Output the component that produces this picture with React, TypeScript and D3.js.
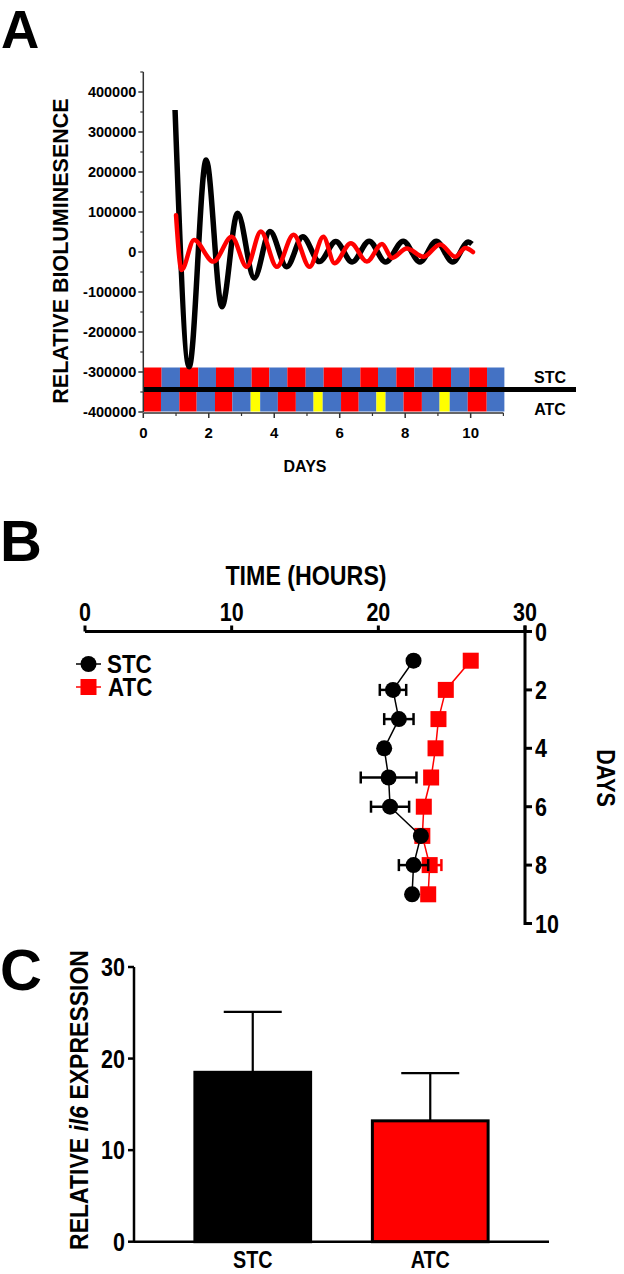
import React from 'react';
import * as d3 from 'd3';

const FONT = "'Liberation Sans', Arial, Helvetica, sans-serif";

// ---------- Panel A data ----------
const stcWaveDays = [0.97, 1.4, 1.92, 2.4, 2.88, 3.39, 3.87, 4.38, 4.87, 5.38, 5.88, 6.38, 6.9, 7.4, 7.94, 8.45, 8.95, 9.45, 9.93, 10.04];
const stcWaveValues = [355000, -287000, 230000, -137000, 97000, -65000, 51000, -37000, 38000, -24000, 26000, -25000, 27000, -25000, 27000, -25000, 27000, -25000, 25000, 20000];
const atcWaveDays = [1.0, 1.17, 1.55, 2.14, 2.7, 3.16, 3.59, 4.08, 4.59, 5.08, 5.5, 5.84, 6.34, 6.83, 7.29, 7.6, 8.05, 8.56, 9.07, 9.53, 9.84, 10.07];
const atcWaveValues = [92000, -45000, 30000, -24000, 38000, -37000, 51000, -37000, 43000, -37000, 38000, -28000, 22000, -24000, 20000, -15000, 9000, -12000, 19000, -12000, 10000, 0];
const aYTicks = [400000, 300000, 200000, 100000, 0, -100000, -200000, -300000, -400000];
const aYMinorTicks = [450000, 350000, 250000, 150000, 50000, -50000, -150000, -250000, -350000];
const aXTicks = [0, 2, 4, 6, 8, 10];
const aXMinorTicks = [1, 3, 5, 7, 9, 11];
const stcLightEdges = [0, 0.56, 1.12, 1.68, 2.22, 2.77, 3.31, 3.85, 4.4, 4.96, 5.51, 6.07, 6.63, 7.17, 7.73, 8.28, 8.84, 9.4, 9.96, 10.5, 11.03];
const stcLightColors = ['R', 'B', 'R', 'B', 'R', 'B', 'R', 'B', 'R', 'B', 'R', 'B', 'R', 'B', 'R', 'B', 'R', 'B', 'R', 'B'];
const atcLightEdges = [0, 0.54, 1.1, 1.63, 2.19, 2.72, 3.28, 3.57, 4.11, 4.66, 5.2, 5.48, 6.04, 6.58, 7.12, 7.4, 7.95, 8.51, 9.05, 9.36, 9.91, 10.49, 11.03];
const atcLightColors = ['R', 'B', 'R', 'B', 'R', 'B', 'Y', 'B', 'R', 'B', 'Y', 'B', 'R', 'B', 'Y', 'B', 'R', 'B', 'Y', 'B', 'R', 'B'];

// ---------- Panel B data ----------
const bDays = [1, 2, 3, 4, 5, 6, 7, 8, 9];
const stcPeriod = [22.4, 21.0, 21.4, 20.4, 20.7, 20.8, 22.9, 22.4, 22.3];
const stcPeriodErr = [0.3, 0.9, 1.0, 0.3, 1.9, 1.3, 0.2, 1.0, 0.0];
const atcPeriod = [26.3, 24.6, 24.1, 23.9, 23.6, 23.1, 23.0, 23.5, 23.4];
const atcPeriodErr = [0.0, 0.0, 0.0, 0.0, 0.0, 0.0, 0.0, 0.8, 0.0];
const bHourTicks = [0, 10, 20, 30];
const bDayTicks = [0, 2, 4, 6, 8, 10];

// ---------- Panel C data ----------
const cGroups = ['STC', 'ATC'];
const cMeans = [18.5, 13.2];
const cErrs = [6.6, 5.2];
const cTicks = [0, 10, 20, 30];

const COLORS: Record<string, string> = { R: '#ff0000', B: '#4472c4', Y: '#ffff00' };
const RED = '#ff0000';

function PanelA() {
  const x = d3.scaleLinear().domain([0, 11]).range([143.3, 503.4]);
  const y = d3.scaleLinear().domain([-400000, 450000]).range([412, 72]);
  const line = d3.line<[number, number]>().x(d => x(d[0])).y(d => y(d[1])).curve(d3.curveMonotoneX);
  const stc = stcWaveDays.map((d, i) => [d, stcWaveValues[i]] as [number, number]);
  const atc = atcWaveDays.map((d, i) => [d, atcWaveValues[i]] as [number, number]);
  const rowTop = 367.5, rowMid = 389.5, rowBot = 411.5;
  const axisCol = '#333';
  return (
    <g fontFamily={FONT} fontWeight="bold">
      <text x={1} y={48} fontSize={53}>A</text>
      {stcLightColors.map((c, i) => (
        <rect key={'s' + i} x={x(stcLightEdges[i])} y={rowTop} width={x(stcLightEdges[i + 1]) - x(stcLightEdges[i])} height={rowMid - rowTop} fill={COLORS[c]} />
      ))}
      {atcLightColors.map((c, i) => (
        <rect key={'a' + i} x={x(atcLightEdges[i])} y={rowMid} width={x(atcLightEdges[i + 1]) - x(atcLightEdges[i])} height={rowBot - rowMid} fill={COLORS[c]} />
      ))}
      <path d={line(stc) || ''} fill="none" stroke="#000" strokeWidth={5.5} strokeLinejoin="round" />
      <path d={line(atc) || ''} fill="none" stroke={RED} strokeWidth={4.5} strokeLinejoin="round" strokeLinecap="round" />
      <line x1={x(0)} x2={576} y1={rowMid} y2={rowMid} stroke="#000" strokeWidth={5} />
      <line x1={x(0)} x2={x(0)} y1={y(450000)} y2={y(-400000)} stroke={axisCol} strokeWidth={1.5} />
      {aYTicks.map(t => (
        <g key={t}>
          <line x1={x(0) - 5} x2={x(0)} y1={y(t)} y2={y(t)} stroke={axisCol} strokeWidth={1.5} />
          <text x={x(0) - 7} y={y(t)} dy="0.36em" textAnchor="end" fontSize={14.5}>{t}</text>
        </g>
      ))}
      {aYMinorTicks.map(t => (
        <line key={t} x1={x(0) - 3} x2={x(0)} y1={y(t)} y2={y(t)} stroke={axisCol} strokeWidth={1.2} />
      ))}
      <line x1={x(0)} x2={x(11)} y1={413} y2={413} stroke={axisCol} strokeWidth={1.5} />
      {aXTicks.map(t => (
        <g key={t}>
          <line x1={x(t)} x2={x(t)} y1={413} y2={418} stroke={axisCol} strokeWidth={1.5} />
          <text x={x(t)} y={438} textAnchor="middle" fontSize={15}>{t}</text>
        </g>
      ))}
      {aXMinorTicks.map(t => (
        <line key={t} x1={x(t)} x2={x(t)} y1={413} y2={416} stroke={axisCol} strokeWidth={1.2} />
      ))}
      <text x={305} y={472} textAnchor="middle" fontSize={16}>DAYS</text>
      <text transform="translate(68,251) rotate(-90)" textAnchor="middle" fontSize={21.5}>RELATIVE BIOLUMINESENCE</text>
      <text x={550} y={383} textAnchor="middle" fontSize={16}>STC</text>
      <text x={550} y={415} textAnchor="middle" fontSize={16}>ATC</text>
    </g>
  );
}

function NText(props: { x: number; y: number; anchor?: string; size: number; children: React.ReactNode; rotate?: number }) {
  const { x, y, anchor = 'start', size, children, rotate = 0 } = props;
  return (
    <text transform={`translate(${x},${y}) rotate(${rotate}) scale(0.86,1)`} textAnchor={anchor} fontSize={size}>{children}</text>
  );
}

function PanelB() {
  const x = d3.scaleLinear().domain([0, 30]).range([85, 525]);
  const y = d3.scaleLinear().domain([0, 10]).range([631.5, 923.5]);
  const stcLine = d3.line<number>().x((d, i) => x(stcPeriod[i])).y(d => y(d));
  const atcLine = d3.line<number>().x((d, i) => x(atcPeriod[i])).y(d => y(d));
  const sq = 16;
  return (
    <g fontFamily={FONT} fontWeight="bold">
      <text x={0} y={561} fontSize={58}>B</text>
      <NText x={306} y={585} anchor="middle" size={27}>TIME (HOURS)</NText>
      <line x1={x(0)} x2={x(30)} y1={y(0)} y2={y(0)} stroke="#000" strokeWidth={3} />
      {bHourTicks.map(t => (
        <g key={t}>
          <line x1={x(t)} x2={x(t)} y1={y(0) - 6} y2={y(0)} stroke="#000" strokeWidth={3} />
          <NText x={x(t)} y={621} anchor="middle" size={25}>{t}</NText>
        </g>
      ))}
      <line x1={x(30)} x2={x(30)} y1={y(0) - 6} y2={y(10) + 1.5} stroke="#000" strokeWidth={3} />
      {bDayTicks.map(t => (
        <g key={t}>
          <line x1={x(30)} x2={x(30) + 7} y1={y(t)} y2={y(t)} stroke="#000" strokeWidth={3} />
          <NText x={x(30) + 10} y={y(t) + 9} size={25}>{t}</NText>
        </g>
      ))}
      <NText x={597} y={778} anchor="middle" size={25} rotate={90}>DAYS</NText>
      <path d={atcLine(bDays) || ''} fill="none" stroke={RED} strokeWidth={1.5} />
      {bDays.map((d, i) => atcPeriodErr[i] > 0 ? (
        <g key={'ae' + i} stroke={RED} strokeWidth={2.5}>
          <line x1={x(atcPeriod[i] - atcPeriodErr[i])} x2={x(atcPeriod[i] + atcPeriodErr[i])} y1={y(d)} y2={y(d)} />
          <line x1={x(atcPeriod[i] + atcPeriodErr[i])} x2={x(atcPeriod[i] + atcPeriodErr[i])} y1={y(d) - 6} y2={y(d) + 6} />
        </g>
      ) : null)}
      {bDays.map((d, i) => (
        <rect key={'a' + i} x={x(atcPeriod[i]) - sq / 2} y={y(d) - sq / 2} width={sq} height={sq} fill={RED} />
      ))}
      <path d={stcLine(bDays) || ''} fill="none" stroke="#000" strokeWidth={1.5} />
      {bDays.map((d, i) => stcPeriodErr[i] > 0 ? (
        <g key={'se' + i} stroke="#000" strokeWidth={2.5}>
          <line x1={x(stcPeriod[i] - stcPeriodErr[i])} x2={x(stcPeriod[i] + stcPeriodErr[i])} y1={y(d)} y2={y(d)} />
          <line x1={x(stcPeriod[i] - stcPeriodErr[i])} x2={x(stcPeriod[i] - stcPeriodErr[i])} y1={y(d) - 6} y2={y(d) + 6} />
          <line x1={x(stcPeriod[i] + stcPeriodErr[i])} x2={x(stcPeriod[i] + stcPeriodErr[i])} y1={y(d) - 6} y2={y(d) + 6} />
        </g>
      ) : null)}
      {bDays.map((d, i) => (
        <circle key={'s' + i} cx={x(stcPeriod[i])} cy={y(d)} r={8} fill="#000" />
      ))}
      <line x1={76} x2={101} y1={664} y2={664} stroke="#000" strokeWidth={1.5} />
      <circle cx={88.5} cy={664} r={8} fill="#000" />
      <NText x={107} y={673} size={26}>STC</NText>
      <line x1={76} x2={101} y1={687} y2={687} stroke={RED} strokeWidth={1.5} />
      <rect x={88.5 - sq / 2} y={687 - sq / 2} width={sq} height={sq} fill={RED} />
      <NText x={108} y={696} size={26}>ATC</NText>
    </g>
  );
}

function PanelC() {
  const y = d3.scaleLinear().domain([0, 30]).range([1241.7, 967]);
  const x = d3.scaleBand<string>().domain(cGroups).range([134, 549]).paddingInner(0.348).paddingOuter(0.343);
  const bw = x.bandwidth();
  return (
    <g fontFamily={FONT} fontWeight="bold">
      <text x={0} y={990} fontSize={58}>C</text>
      {cGroups.map((g, i) => {
        const x0 = x(g) as number;
        const cx = x0 + bw / 2;
        return (
          <g key={g}>
            <line x1={cx} x2={cx} y1={y(cMeans[i])} y2={y(cMeans[i] + cErrs[i])} stroke="#000" strokeWidth={2.2} />
            <line x1={cx - 29} x2={cx + 29} y1={y(cMeans[i] + cErrs[i])} y2={y(cMeans[i] + cErrs[i])} stroke="#000" strokeWidth={2.2} />
            <rect x={x0} y={y(cMeans[i])} width={bw} height={y(0) - y(cMeans[i])} fill={i === 0 ? '#000' : RED} stroke="#000" strokeWidth={3} />
            <NText x={cx} y={1268} anchor="middle" size={23}>{g}</NText>
          </g>
        );
      })}
      <line x1={134} x2={134} y1={y(30)} y2={y(0)} stroke="#000" strokeWidth={2.5} />
      <line x1={134} x2={549} y1={y(0)} y2={y(0)} stroke="#000" strokeWidth={2.5} />
      {cTicks.map(t => (
        <g key={t}>
          <line x1={128} x2={134} y1={y(t)} y2={y(t)} stroke="#000" strokeWidth={2.5} />
          <NText x={125} y={y(t) + 9} anchor="end" size={25}>{t}</NText>
        </g>
      ))}
      <text transform="translate(88,1100) rotate(-90) scale(0.92,1)" textAnchor="middle" fontSize={25}>
        RELATIVE <tspan fontStyle="italic">il6</tspan> EXPRESSION
      </text>
    </g>
  );
}

export default function App() {
  return (
    <svg width={624} height={1274} viewBox="0 0 624 1274" style={{ position: 'absolute', left: 0, top: 0, display: 'block', background: '#fff' }}>
      <rect x={0} y={0} width={624} height={1274} fill="#fff" />
      <PanelA />
      <PanelB />
      <PanelC />
    </svg>
  );
}
